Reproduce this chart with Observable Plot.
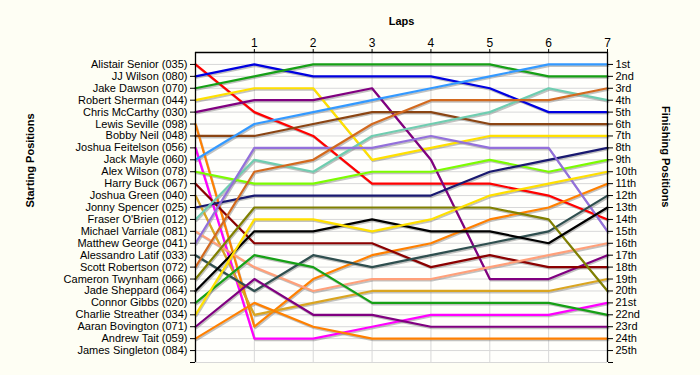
<!DOCTYPE html>
<html>
<head>
<meta charset="utf-8">
<script src="https://cdn.jsdelivr.net/npm/d3@7"></script>
<script src="https://cdn.jsdelivr.net/npm/@observablehq/plot@0.6"></script>
<style>
  html, body { margin: 0; padding: 0; background: #FEFEF4; }
  #chart { width: 700px; height: 375px; }
</style>
</head>
<body>
<div id="chart"></div>
<script>
// ---- data ----
const laps = [0, 1, 2, 3, 4, 5, 6, 7];
const lapTicks = [1, 2, 3, 4, 5, 6, 7];
const drivers = [
  "Alistair Senior (035)", "JJ Wilson (080)", "Jake Dawson (070)", "Robert Sherman (044)",
  "Chris McCarthy (030)", "Lewis Seville (098)", "Bobby Neil (048)", "Joshua Feitelson (056)",
  "Jack Mayle (060)", "Alex Wilson (078)", "Harry Buck (067)", "Joshua Green (040)",
  "Jonny Spencer (025)", "Fraser O'Brien (012)", "Michael Varriale (081)", "Matthew George (041)",
  "Alessandro Latif (033)", "Scott Robertson (072)", "Cameron Twynham (066)", "Jade Sheppard (064)",
  "Connor Gibbs (020)", "Charlie Streather (034)", "Aaran Bovington (071)", "Andrew Tait (059)",
  "James Singleton (084)"
];
const finishLabels = [
  "1st","2nd","3rd","4th","5th","6th","7th","8th","9th","10th","11th","12th","13th",
  "14th","15th","16th","17th","18th","19th","20th","21st","22nd","23rd","24th","25th"
];
// position of each driver at laps 0..7 (null = no line drawn)
const positions = [
  [1, 5, 7, 11, 11, 11, 12, 14],
  [2, 1, 2, 2, 2, 3, 5, 5],
  [3, 2, 1, 1, 1, 1, 2, 2],
  [4, 3, 3, 9, 8, 7, 7, 7],
  [5, 4, 4, 3, 9, 19, 19, 17],
  [6, 23, 19, 17, 16, 14, 13, 11],
  [7, 7, 6, 5, 5, 6, 6, 6],
  [8, 24, 24, 23, 22, 22, 22, 21],
  [9, 6, 5, 4, 3, 2, 1, 1],
  [10, 11, 11, 10, 10, 9, 10, 9],
  [11, 16, 16, 16, 18, 17, 18, 18],
  [12, 22, 21, 20, 20, 20, 20, 19],
  [13, 12, 12, 12, 12, 10, 9, 8],
  [14, 9, 10, 7, 6, 5, 3, 4],
  [15, 18, 20, 19, 19, 18, 17, 16],
  [16, 8, 8, 8, 7, 8, 8, 15],
  [17, 20, 17, 18, 17, 16, 15, 12],
  [18, 10, 9, 6, 4, 4, 4, 3],
  [19, 13, 13, 13, 13, 13, 14, 20],
  [20, 15, 15, 14, 15, 15, 16, 13],
  [21, 17, 18, 21, 21, 21, 21, 22],
  [22, 14, 14, 15, 14, 12, 11, 10],
  [23, 19, 22, 22, 23, 23, 23, 23],
  [24, 21, 23, 24, 24, 24, 24, 24],
  null
];
// ---- styles ----
const palette = [
  "#FF0000", "#0000E0", "#16A016", "#FFE000", "#800080", "#FF8000", "#8B4513", "#FF00FF",
  "#3399FF", "#7CFC00", "#8B0000", "#DAA520", "#191970", "#6FCDB0", "#FFA07A", "#9370DB",
  "#2F4F4F", "#D2691E", "#808000", "#000000", "#16A016", "#FFE000", "#800080", "#FF8000",
  "#999999"
];

const rows = [];
drivers.forEach((d, i) => {
  const p = positions[i];
  if (!p) return;
  laps.forEach((lap, j) => rows.push({driver: d, lap, pos: p[j]}));
});
const posTicks = d3.range(1, 27);

const chart = Plot.plot({
  width: 700,
  height: 375,
  marginLeft: 195,
  marginRight: 93,
  marginTop: 52,
  marginBottom: 13,
  style: {
    fontFamily: "'Liberation Sans', Arial, sans-serif",
    fontSize: "11px",
    background: "#FEFEF4",
    color: "#000"
  },
  x: {domain: [0, 7]},
  y: {domain: [0, 26], reverse: true},
  color: {type: "ordinal", domain: drivers, range: palette},
  marks: [
    Plot.frame({fill: "#FFFFFC", stroke: null}),
    Plot.gridY(posTicks, {stroke: "#d8d8d8", strokeOpacity: 1}),
    Plot.gridX([1, 2, 3, 4, 5, 6], {stroke: "#d8d8d8", strokeOpacity: 1}),
    // shadows
    Plot.line(rows, {x: "lap", y: "pos", z: "driver", stroke: "#777", strokeOpacity: 0.45,
      strokeWidth: 2, dx: 1, dy: 1.5}),
    Plot.line(rows, {x: "lap", y: "pos", z: "driver", stroke: "driver", strokeWidth: 2.2}),
    Plot.ruleY([0], {stroke: "#000", strokeWidth: 1.3}),
    Plot.ruleX([0, 7], {stroke: "#000", strokeWidth: 1.3}),
    Plot.axisX(lapTicks, {anchor: "top", tickSize: 4, tickPadding: 2, label: null,
      tickFormat: d => String(d), fontSize: 12}),
    Plot.axisY(posTicks, {anchor: "left", tickSize: 5, tickPadding: 3, label: null,
      tickFormat: d => drivers[d - 1] || ""}),
    Plot.axisY(posTicks, {anchor: "right", tickSize: 5, tickPadding: 3, label: null,
      tickFormat: d => finishLabels[d - 1] || "", fontSize: 11}),
    Plot.text(["Laps"], {frameAnchor: "top", dy: -35, fontWeight: "bold", fontSize: 11}),
    Plot.text(["Starting Positions"], {frameAnchor: "left", dx: -165, rotate: -90,
      fontWeight: "bold", fontSize: 11}),
    Plot.text(["Finishing Positions"], {frameAnchor: "right", dx: 58, rotate: 90,
      fontWeight: "bold", fontSize: 11})
  ]
});
document.getElementById("chart").appendChild(chart);
</script>
</body>
</html>
